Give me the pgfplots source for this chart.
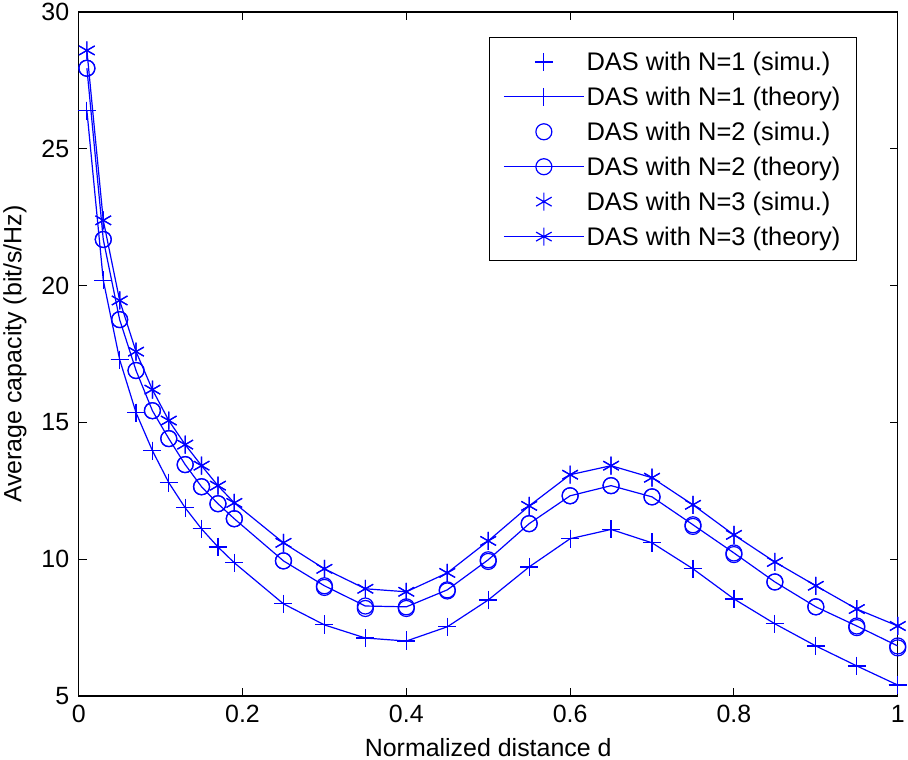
\documentclass[border=0pt]{standalone}
\usepackage{pgfplots}
\pgfplotsset{compat=1.18}
\usepackage{fontspec}
\setmainfont{Liberation Sans}

\definecolor{mblue}{RGB}{0,0,255}

\pgfplotsset{
  legimg/.style={legend image code/.code={%
    \draw[mark repeat=2,mark phase=2,##1] plot coordinates {(0bp,0bp)(40bp,0bp)(80bp,0bp)};}},
  simu/.style={mblue, only marks, mark options={mblue, solid}, legimg},
  theo/.style={mblue, mark options={mblue, solid}, legimg},
}

\begin{document}
\begin{tikzpicture}
\begin{axis}[
    scale only axis,
    width=818bp, height=683bp,
    xmin=0, xmax=1, ymin=5, ymax=30,
    xtick={0,0.2,0.4,0.6,0.8,1},
    ytick={5,10,15,20,25,30},
    tick align=inside,
    major tick length=8bp,
    axis line style={black, line width=1.3bp},
    every tick/.style={black, line width=1bp},
    /pgf/number format/assume math mode=true,
    tick label style={black, font=\fontsize{25}{29}\selectfont},
    xticklabel style={yshift=-6bp},
    yticklabel style={xshift=-6bp},
    label style={black, font=\fontsize{25}{29}\selectfont},
    xlabel={Normalized distance d},
    ylabel={Average capacity (bit/s/Hz)},
    xlabel style={yshift=-8bp},
    ylabel style={yshift=8bp},
    legend style={at={(0.95,0.963)}, anchor=north east, draw=black, text=black,
      font=\fontsize{25.5}{29}\selectfont, line width=1bp,
      legend cell align=left, row sep=11bp, inner xsep=14bp, inner ysep=12bp},
    every axis plot/.append style={line width=1.2bp},
  ]
% N=1
\addplot[simu, mark=+, mark size=9bp] coordinates {
(0.01,26.4)(0.03,20.2)(0.05,17.3)(0.07,15.36)(0.09,13.97)(0.11,12.8)(0.13,11.88)
(0.15,11.11)(0.17,10.45)(0.19,9.87)(0.25,8.37)(0.3,7.62)(0.35,7.12)(0.4,7.03)
(0.45,7.53)(0.5,8.51)(0.55,9.72)(0.6,10.75)(0.65,11.09)(0.7,10.62)(0.75,9.65)
(0.8,8.55)(0.85,7.64)(0.9,6.83)(0.95,6.1)(1.0,5.42)};
\addlegendentry{DAS with N=1 (simu.)}
\addplot[theo, mark=+, mark size=9bp] coordinates {
(0.01,26.4)(0.03,20.2)(0.05,17.3)(0.07,15.36)(0.09,13.97)(0.11,12.8)(0.13,11.88)
(0.15,11.11)(0.17,10.45)(0.19,9.87)(0.25,8.37)(0.3,7.6)(0.35,7.12)(0.4,7.01)
(0.45,7.53)(0.5,8.51)(0.55,9.72)(0.6,10.75)(0.65,11.09)(0.7,10.6)(0.75,9.65)
(0.8,8.55)(0.85,7.64)(0.9,6.83)(0.95,6.1)(1.0,5.4)};
\addlegendentry{DAS with N=1 (theory)}
% N=2
\addplot[simu, mark=o, mark size=8bp] coordinates {
(0.01,27.95)(0.03,21.69)(0.05,18.76)(0.07,16.9)(0.09,15.43)(0.11,14.41)(0.13,13.46)
(0.15,12.65)(0.17,12.03)(0.19,11.48)(0.25,9.94)(0.3,8.97)(0.35,8.2)(0.4,8.2)
(0.45,8.84)(0.5,9.92)(0.55,11.3)(0.6,12.32)(0.65,12.69)(0.7,12.28)(0.75,11.2)
(0.8,10.17)(0.85,9.17)(0.9,8.26)(0.95,7.5)(1.0,6.76)};
\addlegendentry{DAS with N=2 (simu.)}
\addplot[theo, mark=o, mark size=8bp] coordinates {
(0.01,27.95)(0.03,21.69)(0.05,18.76)(0.07,16.9)(0.09,15.43)(0.11,14.41)(0.13,13.46)
(0.15,12.65)(0.17,12.03)(0.19,11.48)(0.25,9.94)(0.3,9.03)(0.35,8.29)(0.4,8.26)
(0.45,8.88)(0.5,9.98)(0.55,11.3)(0.6,12.32)(0.65,12.69)(0.7,12.28)(0.75,11.26)
(0.8,10.23)(0.85,9.17)(0.9,8.26)(0.95,7.56)(1.0,6.83)};
\addlegendentry{DAS with N=2 (theory)}
% N=3
\addplot[simu, mark=asterisk, mark size=9bp] coordinates {
(0.01,28.6)(0.03,22.39)(0.05,19.46)(0.07,17.59)(0.09,16.2)(0.11,15.07)(0.13,14.19)
(0.15,13.42)(0.17,12.69)(0.19,12.06)(0.25,10.6)(0.3,9.65)(0.35,8.92)(0.4,8.81)
(0.45,9.5)(0.5,10.67)(0.55,11.95)(0.6,13.09)(0.65,13.42)(0.7,12.98)(0.75,11.99)
(0.8,10.89)(0.85,9.9)(0.9,9.03)(0.95,8.18)(1.0,7.56)};
\addlegendentry{DAS with N=3 (simu.)}
\addplot[theo, mark=asterisk, mark size=9bp] coordinates {
(0.01,28.6)(0.03,22.39)(0.05,19.46)(0.07,17.59)(0.09,16.2)(0.11,15.07)(0.13,14.19)
(0.15,13.42)(0.17,12.69)(0.19,12.06)(0.25,10.6)(0.3,9.65)(0.35,8.92)(0.4,8.81)
(0.45,9.5)(0.5,10.67)(0.55,11.95)(0.6,13.09)(0.65,13.42)(0.7,12.98)(0.75,11.99)
(0.8,10.89)(0.85,9.9)(0.9,9.03)(0.95,8.18)(1.0,7.56)};
\addlegendentry{DAS with N=3 (theory)}
\end{axis}
\end{tikzpicture}
\end{document}
